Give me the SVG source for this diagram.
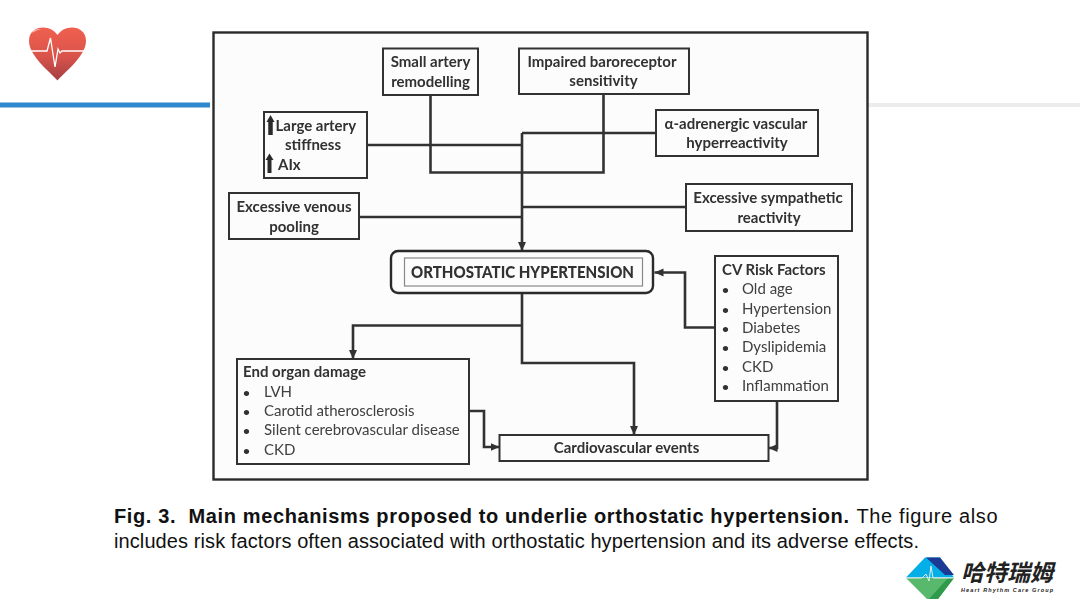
<svg xmlns="http://www.w3.org/2000/svg" width="1080" height="608" viewBox="0 0 1080 608">
<style>
text{font-family:Lato,"Liberation Sans",sans-serif;fill:#303030}
.b{font-weight:700;font-size:15px}
.c{text-anchor:middle}
.r{font-size:15px;fill:#404040}
.d{font-size:12px;fill:#303030;font-weight:700}
.box{fill:#fcfcfc;stroke:#333;stroke-width:2}
.ln{fill:none;stroke:#333;stroke-width:2.600}
.cap{font-family:"Liberation Sans",Arial,sans-serif;font-size:20px;fill:#111;white-space:pre}
</style>
<defs>
<marker id="a" markerUnits="userSpaceOnUse" markerWidth="10" markerHeight="10" refX="9" refY="5" orient="auto"><path d="M0 1L9 5L0 9z" fill="#333"/></marker>
<linearGradient id="hg" x1="0" y1="0" x2="0" y2="1"><stop offset="0" stop-color="#f0604f"/><stop offset="0.55" stop-color="#d9534a"/><stop offset="1" stop-color="#a33f45"/></linearGradient>
<filter id="soft" x="-2%" y="-2%" width="104%" height="104%"><feGaussianBlur stdDeviation="0.35"/></filter>
</defs>
<rect width="1080" height="608" fill="#fff"/>
<g id="header">
<rect x="0" y="102.500" width="210" height="5" fill="#2f88cd"/>
<rect x="868" y="103" width="212" height="4" fill="#ececec"/>
<path d="M57.500 80.500C50 72 29 56 29 41C29 32 35.500 27.500 43 27.500C49.500 27.500 54.500 30.500 57.500 35C60.500 30.500 65.500 27.500 72 27.500C79.500 27.500 86 32 86 41C86 56 65 72 57.500 80.500Z" fill="url(#hg)"/>
<path d="M32 33C34 29.500 38 28.500 41 29C37 30 34.500 31.500 32 33Z" fill="#fff" fill-opacity="0.7"/>
<path d="M30 51H47L50.500 38L55 67L58 49L60 53L62 51H84" fill="none" stroke="#fff" stroke-width="1.300"/>
</g>
<rect x="213.500" y="32.500" width="654" height="447" fill="#fcfcfc" stroke="#2a2a2a" stroke-width="2.400"/>
<g filter="url(#soft)">
<g id="connectors">
<path class="ln" d="M430.500 95V172.500H603.500V94"/>
<path class="ln" d="M367 145H522"/>
<path class="ln" d="M656 133H522"/>
<path class="ln" d="M359 217H522"/>
<path class="ln" d="M686 207H522"/>
<path class="ln" d="M522 133V251" marker-end="url(#a)"/>
<path class="ln" d="M715 327.500H685V272.500H654.500" marker-end="url(#a)"/>
<path class="ln" d="M522 293V363H634V435" marker-end="url(#a)"/>
<path class="ln" d="M522 325.500H353V359" marker-end="url(#a)"/>
<path class="ln" d="M469 411H484V447H499.500" marker-end="url(#a)"/>
<path class="ln" d="M777 401V448H768.500" marker-end="url(#a)"/>
</g>
<g id="small-artery"><rect class="box" x="383" y="48.500" width="95" height="46.500"/><text class="b c" x="430.500" y="67">Small artery</text><text class="b c" x="430.500" y="87">remodelling</text></g>
<g id="baroreceptor"><rect class="box" x="519" y="48.500" width="170" height="45.500"/><text class="b c" x="602" y="67">Impaired baroreceptor</text><text class="b c" x="603.500" y="86">sensitivity</text></g>
<g id="large-artery"><rect class="box" x="264" y="112" width="103" height="66"/>
<path d="M270.500 135V120" stroke="#2b2b2b" stroke-width="4.500"/><path d="M266.500 122L270.500 115L274.500 122Z" fill="#2b2b2b"/>
<path d="M269.500 173V159" stroke="#2b2b2b" stroke-width="4"/><path d="M265.500 160L269.500 153.500L273.500 160Z" fill="#2b2b2b"/>
<text class="b" x="275.500" y="131">Large artery</text><text class="b c" x="313" y="150">stiffness</text><text class="b" x="278" y="170">AIx</text></g>
<g id="adrenergic"><rect class="box" x="656" y="110" width="162" height="46"/><text class="b c" x="736" y="129">α-adrenergic vascular</text><text class="b c" x="737" y="148">hyperreactivity</text></g>
<g id="venous"><rect class="box" x="229" y="193" width="130" height="46"/><text class="b c" x="294" y="212">Excessive venous</text><text class="b c" x="294" y="232">pooling</text></g>
<g id="sympathetic"><rect class="box" x="686" y="184" width="166" height="47"/><text class="b c" x="768" y="203">Excessive sympathetic</text><text class="b c" x="769" y="223">reactivity</text></g>
<g id="orthostatic"><rect x="391" y="251" width="262" height="42" rx="7" fill="#fcfcfc" stroke="#2a2a2a" stroke-width="2.400"/><rect x="404.500" y="258" width="238" height="28" fill="none" stroke="#888" stroke-width="1.200"/><text x="411" y="278" textLength="223" lengthAdjust="spacingAndGlyphs" style="font-weight:900;font-size:17px">ORTHOSTATIC HYPERTENSION</text></g>
<g id="cv-risk"><rect class="box" x="715" y="256" width="123" height="145"/><text class="b" x="722" y="275">CV Risk Factors</text>
<text class="d" x="722" y="294">•</text><text class="r" x="742" y="294">Old age</text>
<text class="d" x="722" y="313.500">•</text><text class="r" x="742" y="314">Hypertension</text>
<text class="d" x="722" y="333">•</text><text class="r" x="742" y="333">Diabetes</text>
<text class="d" x="722" y="352">•</text><text class="r" x="742" y="352">Dyslipidemia</text>
<text class="d" x="722" y="371.500">•</text><text class="r" x="742" y="372">CKD</text>
<text class="d" x="722" y="391">•</text><text class="r" x="742" y="391">Inflammation</text></g>
<g id="end-organ"><rect class="box" x="237" y="359" width="232" height="105"/><text class="b" x="243" y="377">End organ damage</text>
<text class="d" x="243" y="397">•</text><text class="r" x="264" y="397">LVH</text>
<text class="d" x="243" y="416">•</text><text class="r" x="264" y="416">Carotid atherosclerosis</text>
<text class="d" x="243" y="435">•</text><text class="r" x="264" y="435">Silent cerebrovascular disease</text>
<text class="d" x="243" y="455">•</text><text class="r" x="264" y="455">CKD</text></g>
<g id="cv-events"><rect class="box" x="499.500" y="435" width="269" height="26"/><text class="b c" x="626.500" y="453">Cardiovascular events</text></g>
</g>
<g id="caption">
<text class="cap" x="114" y="523" font-weight="700" textLength="735">Fig. 3.  Main mechanisms proposed to underlie orthostatic hypertension.</text>
<text class="cap" x="856.500" y="523" textLength="141">The figure also</text>
<text class="cap" x="114" y="547.500" textLength="805">includes risk factors often associated with orthostatic hypertension and its adverse effects.</text>
</g>
<g id="logo">
<path d="M906 577.500L925 557.500H940L954 577.500Z" fill="#04aee6"/>
<path d="M926 557.500H940L954 575L945 575Z" fill="#1c3a94"/>
<path d="M906 578H954L938 599H927Z" fill="#58b96c"/>
<path d="M954 578L938 599H929L948 578Z" fill="#2f9a4c"/>
<path d="M906 578H922L926 574L929 581L931 566L933 578H954" fill="none" stroke="#e8efe8" stroke-width="1"/>
<text x="961" y="581" style="font-family:'Noto Sans CJK SC',sans-serif;font-size:23px;font-weight:700;font-style:italic;fill:#222">哈特瑞姆</text>
<text x="961" y="592" textLength="92" style="font-family:'Liberation Sans',sans-serif;font-size:5.500px;font-weight:700;font-style:italic;fill:#222">Heart Rhythm Care Group</text>
</g>
</svg>
